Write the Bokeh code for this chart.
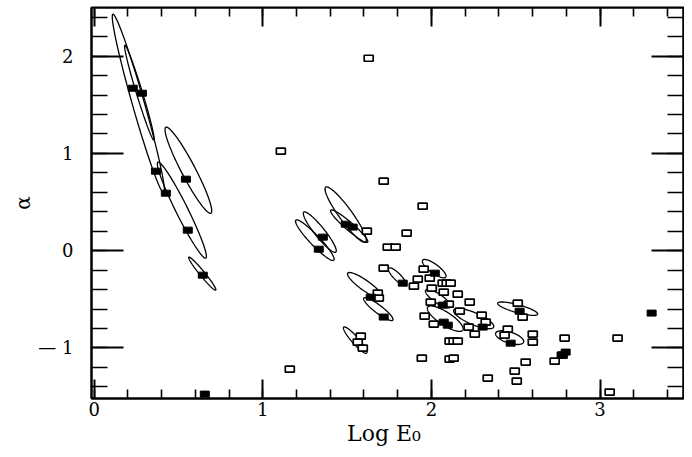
import numpy as np
from bokeh.plotting import figure
from bokeh.models import LinearAxis, SingleIntervalTicker, Range1d, CustomJSTickFormatter
from bokeh.embed import file_html
from bokeh.resources import INLINE

# ---- data: sources with error ellipses (filled squares) ----
filled_x = [0.229, 0.283, 0.366, 0.425, 0.544, 0.555, 0.644, 0.656, 1.356, 1.332,
            1.492, 1.533, 1.640, 1.717, 1.830, 2.020, 2.067, 2.073, 2.097, 2.304,
            2.523, 2.470, 3.306, 2.796, 2.772]
filled_y = [1.670, 1.619, 0.817, 0.591, 0.735, 0.211, -0.252, -1.475, 0.139, 0.015,
            0.272, 0.242, -0.478, -0.683, -0.334, -0.231, -0.560, -0.735, -0.766, -0.786,
            -0.622, -0.951, -0.642, -1.043, -1.074]

# ---- data: other sources (open squares) ----
open_x = [1.628, 1.107, 1.160, 1.717, 1.948, 1.617, 1.853, 1.741, 1.788, 1.717,
          1.954, 1.919, 1.990, 1.896, 2.002, 2.067, 2.091, 2.114, 2.073, 2.156,
          2.227, 2.103, 1.682, 1.688, 1.960, 2.014, 2.168, 2.298, 2.322, 2.221,
          2.257, 2.453, 2.434, 2.601, 2.601, 2.512, 2.541, 2.108, 2.132, 2.156,
          1.581, 1.563, 1.943, 2.108, 2.132, 2.334, 2.559, 2.494, 2.506, 2.790,
          2.731, 2.778, 3.104, 3.057, 1.996, 1.593]
open_y = [1.978, 1.023, -1.218, 0.714, 0.457, 0.200, 0.180, 0.036, 0.036, -0.180,
          -0.190, -0.293, -0.283, -0.365, -0.386, -0.334, -0.334, -0.334, -0.427, -0.447,
          -0.529, -0.550, -0.437, -0.488, -0.673, -0.755, -0.622, -0.663, -0.735, -0.786,
          -0.858, -0.807, -0.868, -0.858, -0.940, -0.540, -0.684, -0.930, -0.930, -0.930,
          -0.879, -0.940, -1.105, -1.115, -1.105, -1.310, -1.146, -1.238, -1.341, -0.899,
          -1.136, -1.074, -0.899, -1.454, -0.529, -1.002]

# ---- data: error ellipses (major-axis end points, minor-axis width in alpha units) ----
ell_x1 = [0.111, 0.182, 0.378, 0.425, 0.561, 1.373, 1.403, 1.243, 1.196, 1.504,
          1.599, 1.480, 1.747, 1.948, 1.966, 1.978, 2.132, 2.393, 2.381]
ell_y1 = [2.431, 2.112, 0.910, 1.269, -0.067, 0.653, 0.416, 0.396, 0.313, -0.231,
          -0.488, -0.786, -0.180, -0.098, -0.406, -0.581, -0.611, -0.540, -0.848]
ell_x2 = [0.413, 0.354, 0.662, 0.692, 0.721, 1.610, 1.622, 1.433, 1.421, 1.711,
          1.771, 1.616, 1.848, 2.085, 2.114, 2.186, 2.369, 2.630, 2.547]
ell_y2 = [0.591, 1.136, -0.077, 0.385, -0.406, 0.087, 0.087, -0.015, -0.098, -0.488,
          -0.714, -1.054, -0.355, -0.272, -0.581, -0.817, -0.786, -0.653, -0.940]
ell_w = [0.123, 0.062, 0.123, 0.144, 0.051, 0.134, 0.082, 0.103, 0.103, 0.103,
         0.082, 0.072, 0.072, 0.092, 0.092, 0.134, 0.123, 0.082, 0.113]

X0, X1 = -0.016, 3.495
Y0, Y1 = -1.52, 2.5
FW, FH = 592, 391

p = figure(frame_width=FW, frame_height=FH,
           x_range=Range1d(X0, X1), y_range=Range1d(Y0, Y1),
           output_backend="svg", toolbar_location=None,
           min_border_left=91, min_border_right=1, min_border_top=7, min_border_bottom=0,
           background_fill_color="white", border_fill_color="white")
p.grid.visible = False
p.outline_line_color = "black"
p.outline_line_width = 2

# ellipse outlines computed in an aspect-corrected space
K = (FW / (X1 - X0)) / (FH / (Y1 - Y0))
t = np.linspace(0, 2 * np.pi, 120)
exs, eys = [], []
for x1, y1, x2, y2, w in zip(ell_x1, ell_y1, ell_x2, ell_y2, ell_w):
    ax1, ax2 = x1 * K, x2 * K
    cx, cy = (ax1 + ax2) / 2, (y1 + y2) / 2
    dx, dy = ax2 - ax1, y2 - y1
    a = np.hypot(dx, dy) / 2
    ux, uy = dx / (2 * a), dy / (2 * a)
    vx, vy = -uy, ux
    b = w / 2
    px_ = cx + a * np.cos(t) * ux + b * np.sin(t) * vx
    py_ = cy + a * np.cos(t) * uy + b * np.sin(t) * vy
    exs.append(list(px_ / K))
    eys.append(list(py_))
p.multi_line(exs, eys, line_color="black", line_width=1.3)

p.rect(open_x, open_y, width=9, height=6, width_units="screen", height_units="screen",
       fill_color="white", line_color="black", line_width=1.7)
p.rect(filled_x, filled_y, width=9, height=6, width_units="screen", height_units="screen",
       fill_color="black", line_color="black", line_width=1)

FONT = "DejaVu Serif"

def style(ax, tin_major, tin_minor, labels=True):
    ax.ticker = SingleIntervalTicker(interval=1, num_minor_ticks=5)
    ax.major_tick_in = tin_major
    ax.major_tick_out = 0
    ax.minor_tick_in = tin_minor
    ax.minor_tick_out = 0
    ax.axis_line_width = 2
    ax.major_tick_line_width = 2
    ax.minor_tick_line_width = 1.6
    ax.axis_line_color = "black"
    ax.major_tick_line_color = "black"
    ax.minor_tick_line_color = "black"
    if labels:
        ax.major_label_text_font = FONT
        ax.major_label_text_font_size = "18px"
        ax.major_label_text_color = "black"
        ax.axis_label_text_font = FONT
        ax.axis_label_text_font_style = "normal"
        ax.axis_label_text_color = "black"
    else:
        ax.formatter = CustomJSTickFormatter(code="return ''")
        ax.major_label_standoff = 0
        ax.axis_label_standoff = 0

xa = p.xaxis[0]
style(xa, 19, 9)
xa.major_label_standoff = 3
xa.axis_label = "Log  E\u2080"
xa.axis_label_text_font_size = "22px"
xa.axis_label_standoff = 2

ya = p.yaxis[0]
style(ya, 32, 16)
ya.major_label_standoff = 18
ya.major_label_orientation = "horizontal"
ya.major_label_overrides = {-1: "\u2014 1"}
ya.axis_label = "\u03b1"
ya.axis_label_text_font_size = "20px"
ya.axis_label_standoff = 0

top = LinearAxis(fixed_location=Y1)
style(top, 19, 9, labels=False)
p.add_layout(top, "above")
right = LinearAxis(fixed_location=X1)
style(right, 32, 16, labels=False)
p.add_layout(right, "right")

open("out.html", "w").write(file_html(p, INLINE))
